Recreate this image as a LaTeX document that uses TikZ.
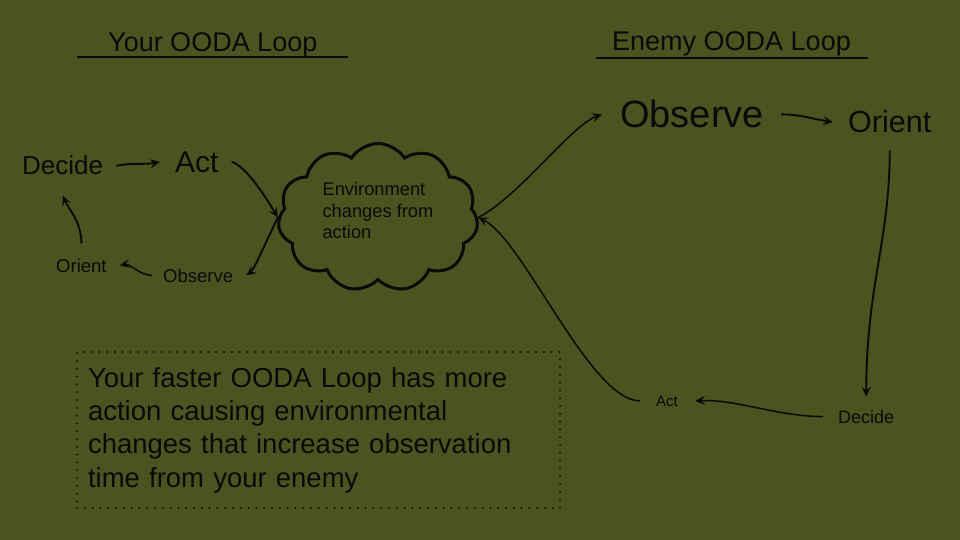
\documentclass[tikz,border=0pt]{standalone}
\usepackage{fontspec}
\setmainfont{Liberation Sans}
\usetikzlibrary{shapes.symbols,arrows.meta}
\definecolor{bg}{HTML}{4B5320}
\definecolor{ink}{HTML}{0A0A0A}
\begin{document}
\begin{tikzpicture}[x=1pt,y=-1pt,
  lbl/.style={inner sep=0pt, anchor=base west, text=ink},
  arr/.style={draw=ink, line width=1.9pt, -{Stealth[length=10pt,width=9pt,inset=4pt]}},
  thinarr/.style={arr, line width=1.5pt},
  uline/.style={draw=ink, line width=2pt}]
\fill[bg] (0,0) rectangle (960,540);
\useasboundingbox (0,0) rectangle (960,540);

% titles
\node[lbl, font=\fontsize{27}{32}\selectfont] (ytitle) at (108,52) {Your OODA Loop};
\node[lbl, font=\fontsize{27}{32}\selectfont] (etitle) at (612,51) {Enemy OODA Loop};
\draw[uline] (77,57) -- (348,57);
\draw[uline] (596,58) -- (868,58);

% your loop
\node[lbl, font=\fontsize{26}{30}\selectfont] (ldecide) at (22,175) {Decide};
\node[lbl, font=\fontsize{30}{34}\selectfont] (lact) at (175,172) {Act};
\node[lbl, font=\fontsize{18.5}{22}\selectfont] (lorient) at (56,272) {Orient};
\node[lbl, font=\fontsize{18.5}{22}\selectfont] (lobserve) at (163,282) {Observe};

% environment cloud
\node[cloud, cloud puffs=11, cloud puff arc=115, aspect=1.4, draw=ink, line width=3pt,
      minimum width=200pt, minimum height=148pt, inner sep=0pt, align=left,
      text=ink, font=\fontsize{18.3}{21.5}\selectfont] (env) at (378,217.5)
      {Environment\\changes from\\action\rule[-14pt]{0pt}{0pt}};

% enemy loop
\node[lbl, font=\fontsize{38}{42}\selectfont] (robserve) at (620,128) {Observe};
\node[lbl, font=\fontsize{30.5}{34}\selectfont] (rorient) at (848,133) {Orient};
\node[lbl, font=\fontsize{18}{22}\selectfont] (rdecide) at (838,423) {Decide};
\node[lbl, font=\fontsize{15}{18}\selectfont] (ract) at (656,406) {Act};

% note
\node[draw=ink, line width=2pt, dash pattern=on 0pt off 7.8pt, line cap=round,
      minimum width=483pt, minimum height=156pt, inner sep=0pt, text width=461pt,
      align=left, text=ink, font=\fontsize{27.5}{33.3}\selectfont] (note) at (318.5,430)
      {Your faster OODA Loop has more\\action causing environmental\\changes that increase observation\\time from your enemy};

% your loop arrows
\draw[arr] ([xshift=13pt]ldecide.east) .. controls +(15,-3) and +(-15,3) .. ([xshift=-15pt]lact.west);
\draw[arr] ([xshift=13pt]lact.east) .. controls +(15,5) and +(-12,-20) .. (env.west);
\draw[arr] (env.west) .. controls +(-10,20) and +(8,-6) .. ([xshift=13pt]lobserve.east);
\draw[thinarr] ([xshift=-11pt]lobserve.west) .. controls +(-12,0) and +(10,-2) .. ([xshift=13pt]lorient.east);
\draw[arr] ([yshift=15pt]lorient.north) .. controls +(0,-22) and +(6,14) .. ([yshift=-20pt]ldecide.south);

% enemy loop arrows
\draw[thinarr] (env.east) .. controls +(40,-20) and +(-30,10) .. ([xshift=-18pt]robserve.west);
\draw[arr] ([xshift=17pt]robserve.east) .. controls +(20,0) and +(-20,-3) .. ([xshift=-15pt]rorient.west);
\draw[arr] ([yshift=-17pt]rorient.south) .. controls +(0,90) and +(0,-110) .. ([yshift=13pt]rdecide.north);
\draw[thinarr] ([xshift=-15pt]rdecide.west) .. controls +(-45,0) and +(40,-2) .. ([xshift=17pt]ract.east);
\draw[thinarr] ([xshift=-16pt]ract.west) .. controls +(-50,0) and +(45,21) .. (env.east);
\end{tikzpicture}
\end{document}
